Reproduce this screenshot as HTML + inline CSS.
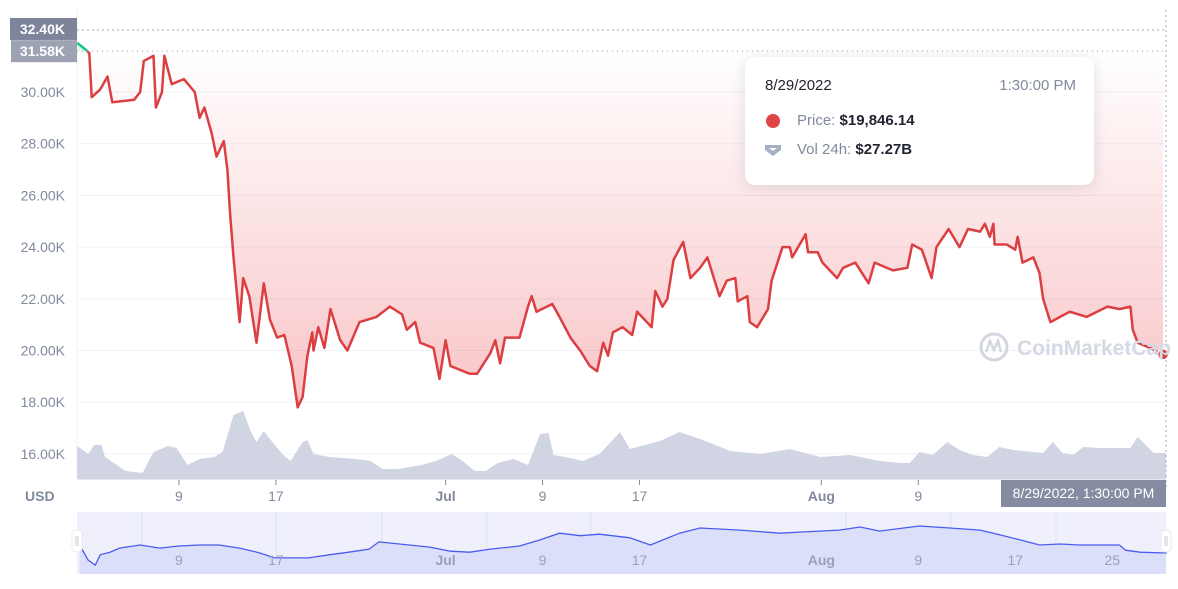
<!DOCTYPE html>
<html><head><meta charset="utf-8">
<style>
html,body{margin:0;padding:0;background:#fff;}
body{width:1178px;height:589px;overflow:hidden;position:relative;font-family:"Liberation Sans",sans-serif;}
svg{position:absolute;left:0;top:0;}
.tt{position:absolute;left:745px;top:57px;width:349px;height:128px;background:#fff;border-radius:10px;box-shadow:0 2px 14px rgba(88,102,126,0.18);}
</style></head>
<body>
<svg id="chart" width="1178" height="589"></svg>
<div class="tt">
  <div style="position:absolute;left:20px;top:20px;font-size:15px;color:#222531;">8/29/2022</div>
  <div style="position:absolute;right:18px;top:20px;font-size:15px;color:#808a9d;">1:30:00 PM</div>
  <div style="position:absolute;left:21px;top:57px;width:14px;height:14px;border-radius:50%;background:#e04545;"></div>
  <div style="position:absolute;left:52px;top:55px;font-size:15px;color:#808a9d;">Price: <b style="color:#222531;font-weight:600;">$19,846.14</b></div>
  <svg style="position:absolute;left:19px;top:85px;" width="18" height="16"><path d="M1 3 L17 3 L17 8 L9 14 L1 8 Z" fill="#a6b0c3"/><path d="M5 6 L13 6 L9 9 Z" fill="#fff"/></svg>
  <div style="position:absolute;left:52px;top:84px;font-size:15px;color:#808a9d;">Vol 24h: <b style="color:#222531;font-weight:600;">$27.27B</b></div>
</div>
<script>
// price data: day offset from Jun 1 2022, price in thousands USD
const priceDays=[-0.4,0.4,0.6,0.8,1.5,2.1,2.5,4.3,4.8,5.1,5.9,6.1,6.6,6.8,7.4,8.4,9.3,9.7,10.1,10.7,11.1,11.7,12.0,12.2,12.5,13.0,13.3,13.8,14.4,15.0,15.5,16.1,16.7,17.3,17.8,18.2,18.6,19.0,19.1,19.5,20.0,20.5,21.3,21.9,22.9,24.3,25.4,26.4,26.8,27.5,27.9,29.0,29.5,30.0,30.4,32.0,32.6,33.7,34.1,34.5,34.9,36.1,36.8,37.1,37.5,38.8,39.4,40.3,41.1,41.9,42.5,43.0,43.4,43.8,44.6,45.4,45.8,47.0,47.3,47.9,48.3,48.8,49.6,50.2,51.0,51.6,52.6,53.2,53.9,54.1,54.9,55.1,55.7,56.6,56.9,57.8,58.4,58.6,59.7,59.9,60.7,61.1,62.3,62.8,63.8,64.9,65.4,66.9,68.1,68.5,69.3,70.1,70.5,71.5,72.4,73.1,74.1,74.5,74.9,75.2,75.3,76.3,77.0,77.2,77.6,78.5,79.0,79.3,79.9,80.7,81.5,82.9,84.6,85.6,86.5,86.7,87.1,88.1,89.2];
const priceValues=[31.9,31.6,31.5,29.8,30.1,30.6,29.6,29.7,30.0,31.2,31.4,29.4,30.0,31.4,30.3,30.5,30.0,29.0,29.4,28.4,27.5,28.1,27.0,25.4,23.6,21.1,22.8,22.1,20.3,22.6,21.2,20.5,20.6,19.4,17.8,18.2,19.8,20.7,20.0,20.9,20.1,21.6,20.4,20.0,21.1,21.3,21.7,21.4,20.8,21.1,20.3,20.1,18.9,20.4,19.4,19.1,19.1,19.9,20.4,19.5,20.5,20.5,21.7,22.1,21.5,21.8,21.3,20.5,20.0,19.4,19.2,20.3,19.8,20.7,20.9,20.6,21.5,20.9,22.3,21.7,22.0,23.5,24.2,22.8,23.2,23.6,22.1,22.7,22.8,21.9,22.1,21.1,20.9,21.6,22.7,24.0,24.0,23.6,24.5,23.8,23.8,23.4,22.8,23.2,23.4,22.6,23.4,23.1,23.2,24.1,23.9,22.8,24.0,24.7,24.0,24.7,24.6,24.9,24.4,24.9,24.1,24.1,23.9,24.4,23.4,23.6,23.0,22.0,21.1,21.3,21.5,21.3,21.7,21.6,21.7,20.8,20.3,20.1,19.85];
// volume data (billions USD)
const volDays=[-0.4,0.5,1.0,1.6,1.9,3.6,5.0,5.9,7.1,7.8,8.7,9.7,10.9,11.6,12.5,13.3,13.9,14.4,15.0,15.7,16.6,17.2,18.2,18.6,19.1,20.4,22.6,23.8,24.8,26.1,28.0,29.2,30.5,31.4,32.4,33.3,34.3,35.6,36.8,37.8,38.5,38.9,39.9,41.3,42.7,44.4,45.2,47.7,49.3,51.0,53.5,56.0,58.4,60.9,63.4,65.8,67.5,68.3,69.1,70.2,71.4,72.4,73.5,74.7,75.7,76.8,78.5,79.3,80.1,80.9,81.8,82.6,84.0,86.5,87.1,87.6,88.4,89.5];
const volValues=[34.7,26.3,35.8,35.8,23.2,8.4,6.3,28.4,34.7,32.6,14.7,21.1,23.2,28.4,67.4,71.6,50.5,38.9,50.5,38.9,25.3,18.9,38.9,41.1,26.3,23.2,21.1,18.9,10.5,10.5,14.7,18.9,26.3,18.9,8.4,8.4,16.8,21.1,14.7,47.4,48.4,25.3,23.2,18.9,26.3,49.5,31.6,40.0,49.5,42.1,29.5,26.3,31.6,23.2,25.3,18.9,16.8,16.8,28.4,25.3,38.9,30.5,25.3,23.2,33.7,30.5,28.4,27.4,38.9,27.4,25.3,33.7,32.6,32.6,44.2,37.9,27.4,27.4];
// navigator data (thousands USD, navigator scale)
const navDays=[-0.2,0.5,1.1,1.5,2.3,3.1,4.8,6.4,8.0,9.7,11.3,13.0,14.6,15.9,17.1,18.7,20.4,22.0,23.7,24.5,26.2,28.7,30.4,32.0,33.7,36.1,37.8,39.4,41.1,42.7,45.2,46.9,49.3,51.0,54.3,57.6,59.2,62.5,64.2,65.8,69.1,71.6,74.1,75.7,77.4,79.0,80.7,82.3,84.0,85.6,86.1,87.3,89.5];
const navValues=[21.4,18.5,17.5,19.5,20.0,20.8,21.4,20.8,21.2,21.4,21.4,20.8,19.9,18.9,18.9,18.9,19.5,20.0,20.6,22.0,21.6,21.0,20.2,20.0,20.6,21.2,22.4,23.7,23.2,23.5,22.8,21.4,23.7,24.7,24.3,23.7,23.9,24.3,24.9,24.1,25.1,24.7,24.3,23.4,22.4,21.4,21.6,21.4,21.4,21.4,20.4,20.0,19.85];
const yTicks=[30,28,26,24,22,20,18,16];
const yTickLabels=["30.00K","28.00K","26.00K","24.00K","22.00K","20.00K","18.00K","16.00K"];
const xTickDays=[8,16,30,38,46,61,69];
const xTickLabels=["9","17","Jul","9","17","Aug","9"];
const navTickDays=[8,16,30,38,46,61,69,77,85];
const navTickLabels=["9","17","Jul","9","17","Aug","9","17","25"];
const baselineValue=31.58, highValue=32.40;

const NS="http://www.w3.org/2000/svg";
const svg=document.getElementById('chart');
const X=d=>82+d*12.12;
const Y=v=>92+(30-v)*25.85;
const VY=v=>479-v*0.95;
const NY=v=>553-(v-19.85)*5.15;
function mk(tag,attrs,parent){const e=document.createElementNS(NS,tag);for(const k in attrs)e.setAttribute(k,attrs[k]);(parent||svg).appendChild(e);return e;}

const defs=mk('defs',{});
const g1=mk('linearGradient',{id:'redfill',x1:0,y1:0,x2:0,y2:1,gradientUnits:'userSpaceOnUse'},defs);
g1.setAttribute('y1',Y(baselineValue));g1.setAttribute('y2',Y(17.8));
mk('stop',{offset:0,'stop-color':'#ea3943','stop-opacity':0},g1);
mk('stop',{offset:1,'stop-color':'#ea3943','stop-opacity':0.3},g1);
const cpA=mk('clipPath',{id:'above'},defs);mk('rect',{x:0,y:0,width:1178,height:Y(baselineValue)},cpA);
const cpB=mk('clipPath',{id:'below'},defs);mk('rect',{x:0,y:Y(baselineValue),width:1178,height:600},cpB);

// grid
yTicks.forEach((t,i)=>{
  const l=mk('line',{x1:77,x2:1166,y1:Y(t),y2:Y(t),stroke:'#eff2f5','stroke-width':1});
  
  
  const tx=mk('text',{x:65,y:Y(t)+5,'text-anchor':'end','font-size':14,fill:'#808a9d'});
  tx.textContent=yTickLabels[i];
  
  
});
mk('line',{x1:77,x2:77,y1:10,y2:479,stroke:'#eff2f5'});

// volume area
let vp='M'+X(volDays[0])+' 479';
volDays.forEach((d,i)=>{vp+=' L'+X(d).toFixed(1)+' '+VY(volValues[i]).toFixed(1);});
vp+=' L1166 '+VY(volValues[volValues.length-1]).toFixed(1)+' L1166 479 Z';
const va=mk('path',{d:vp,fill:'#d1d4e2'});


mk('line',{x1:77,x2:1166,y1:479.5,y2:479.5,stroke:'#e6e8ee'});

// price area + line
let lp='';
priceDays.forEach((d,i)=>{lp+=(i?' L':'M')+X(d).toFixed(1)+' '+Y(priceValues[i]).toFixed(1);});
const yb=Y(baselineValue);
const fa=mk('path',{d:lp+' L'+X(priceDays[priceDays.length-1])+' '+yb+' L'+X(priceDays[0])+' '+yb+' Z',fill:'url(#redfill)','clip-path':'url(#below)'});


mk('path',{d:lp+' L'+X(priceDays[priceDays.length-1])+' '+yb+' L'+X(priceDays[0])+' '+yb+' Z',fill:'rgba(22,199,132,0.15)','clip-path':'url(#above)'});
const rl=mk('path',{d:lp,fill:'none',stroke:'#dc3f41','stroke-width':2.5,'stroke-linejoin':'round','clip-path':'url(#below)'});


const gl=mk('path',{d:lp,fill:'none',stroke:'#16c784','stroke-width':2.5,'stroke-linejoin':'round','clip-path':'url(#above)'});



// dotted reference lines
mk('line',{x1:77,x2:1166,y1:Y(highValue),y2:Y(highValue),stroke:'#a3a9c2','stroke-dasharray':'2,3'});
mk('line',{x1:77,x2:1166,y1:yb,y2:yb,stroke:'#9ea3b3','stroke-dasharray':'1,4'});
mk('line',{x1:1166,x2:1166,y1:10,y2:490,stroke:'#a3a9c2','stroke-dasharray':'2,3'});
const hb=mk('rect',{x:10,y:Y(highValue)-12,width:67,height:22,fill:'#7e849a'});


const ht=mk('text',{x:65,y:Y(highValue)+4,'text-anchor':'end','font-size':14,fill:'#fff','font-weight':'bold'});ht.textContent='32.40K';
const bb=mk('rect',{x:11,y:yb-11,width:66,height:22,fill:'#9ea3b3'});


const bt=mk('text',{x:65,y:yb+5,'text-anchor':'end','font-size':14,fill:'#fff','font-weight':'bold'});bt.textContent='31.58K';

// end dot
const ed=mk('circle',{cx:X(priceDays[priceDays.length-1]),cy:Y(priceValues[priceValues.length-1]),r:5.5,fill:'#dc3f41',stroke:'#fff','stroke-width':1.5});



// watermark
const wm=mk('g',{});


mk('circle',{cx:994,cy:347,r:13,fill:'none',stroke:'#d3d7e1','stroke-width':3},wm);
mk('path',{d:'M986 352 L990 341 L994 350 L998 341 L1001 352',fill:'none',stroke:'#d3d7e1','stroke-width':2.5},wm);
const wt=mk('text',{x:1017,y:355,'font-size':21,fill:'#d5d9e3','font-weight':'bold'},wm);wt.textContent='CoinMarketCap';

// x axis
xTickDays.forEach((d,i)=>{
  mk('line',{x1:X(d),x2:X(d),y1:480,y2:485,stroke:'#808a9d'});
  const tx=mk('text',{x:X(d),y:501,'text-anchor':'middle','font-size':14,fill:'#808a9d','font-weight':(xTickLabels[i].length>2?'bold':'normal')});
  tx.textContent=xTickLabels[i];
  
  
});
const usd=mk('text',{x:25,y:501,'font-size':14,fill:'#808a9d','font-weight':'bold'});usd.textContent='USD';


const cb=mk('rect',{x:1001,y:480,width:165,height:27,fill:'#858ca2'});


const ct=mk('text',{x:1083.5,y:498,'text-anchor':'middle','font-size':14,fill:'#fff'});ct.textContent='8/29/2022, 1:30:00 PM';

// navigator
const nav=mk('g',{});


mk('rect',{x:77,y:512,width:1089,height:62,fill:'#eff0fc'},nav);
[142,276,382,487,591,846,951,1056].forEach(x=>mk('line',{x1:x,x2:x,y1:512,y2:574,stroke:'#e0e2f5'},nav));
let np='';
navDays.forEach((d,i)=>{np+=(i?' L':'M')+X(d).toFixed(1)+' '+NY(navValues[i]).toFixed(1);});
mk('path',{d:np+' L1166 '+NY(navValues[navValues.length-1])+' L1166 574 L'+X(navDays[0])+' 574 Z',fill:'#dcdffa'},nav);
const nl=mk('path',{d:np+' L1166 '+NY(navValues[navValues.length-1]),fill:'none',stroke:'#4a5cf0','stroke-width':1.3},nav);


navTickDays.forEach((d,i)=>{
  const tx=mk('text',{x:X(d),y:565,'text-anchor':'middle','font-size':14,fill:'#9aa1b5','font-weight':(navTickLabels[i].length>2?'bold':'normal')},nav);
  tx.textContent=navTickLabels[i];
  
  
});
[72,1161].forEach((x,i)=>{
  const h=mk('rect',{x:x,y:530,width:10,height:22,rx:4,fill:'#fff',stroke:'#e6e8ee'},nav);
  
  
  mk('line',{x1:x+4,x2:x+4,y1:536,y2:546,stroke:'#c5c9d6'},nav);
  mk('line',{x1:x+6,x2:x+6,y1:536,y2:546,stroke:'#c5c9d6'},nav);
});
</script>
</body></html>
